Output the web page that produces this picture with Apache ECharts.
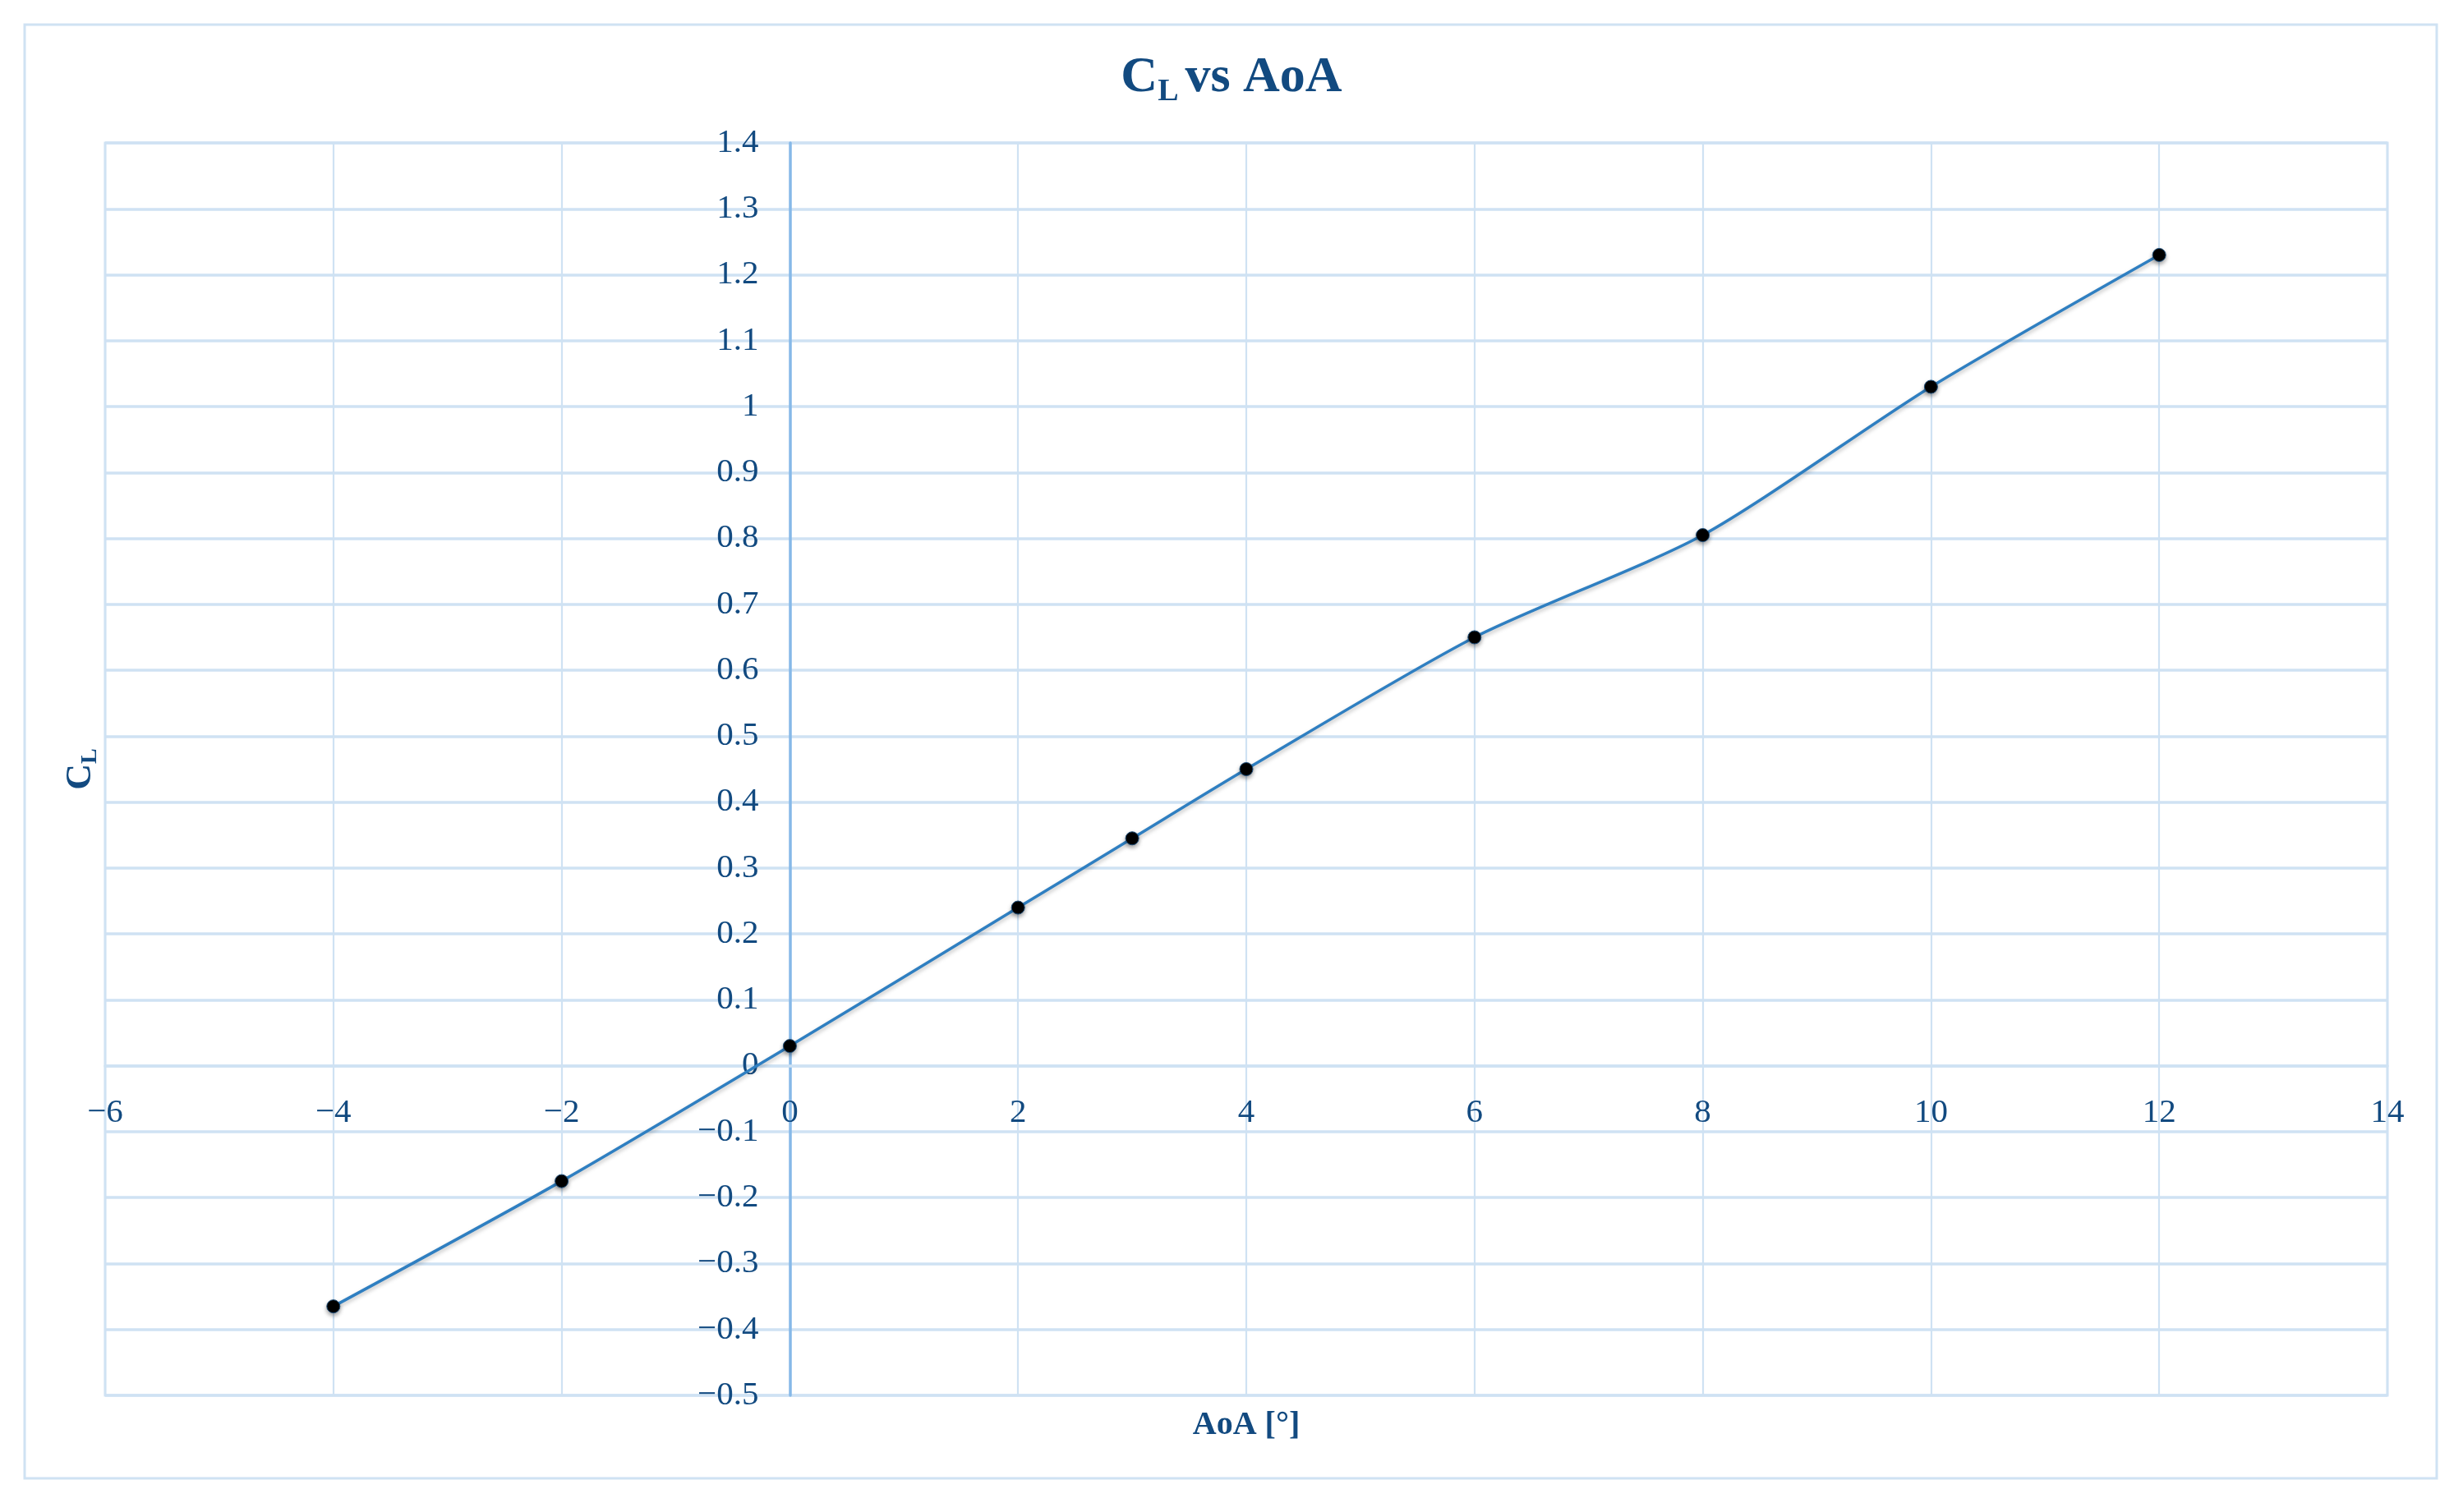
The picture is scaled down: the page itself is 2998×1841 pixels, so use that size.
<!DOCTYPE html>
<html>
<head>
<meta charset="utf-8">
<title>CL vs AoA</title>
<script src="https://cdn.jsdelivr.net/npm/echarts@6/dist/echarts.min.js"></script>
<style>
  html, body { margin: 0; padding: 0; background: #ffffff; }
  #main { width: 2998px; height: 1841px; }
</style>
</head>
<body>
<div id="main"></div>
<script>
// angle of attack (deg) and lift coefficient
var aoa = [-4, -2, 0, 2, 3, 4, 6, 8, 10, 12];
var cl = [-0.365, -0.175, 0.03, 0.24, 0.345, 0.45, 0.65, 0.805, 1.03, 1.23];

// axis ranges / ticks
var xMin = -6, xMax = 14, xStep = 2;
var yMin = -0.5, yMax = 1.4, yStep = 0.1;

var textColor = '#124a80';
var gridColor = '#cfe2f3';
var serif = '"Liberation Serif", "Times New Roman", serif';

var gridBox = { left: 128, right: 92, top: 174, bottom: 142 };

var chart = echarts.init(document.getElementById('main'));

function minus(v) {
  return String(v).replace('-', '\u2212');
}

var points = [];
for (var i = 0; i < aoa.length; i++) {
  points.push([aoa[i], cl[i]]);
}

var option = {
  backgroundColor: '#ffffff',
  animation: false,
  title: {
    text: '{c|C}{l|L}{c|vs AoA}',
    left: 'center',
    top: 54,
    textStyle: {
      rich: {
        c: { fontFamily: serif, fontWeight: 'bold', fontSize: 62, color: textColor, lineHeight: 70 },
        l: { fontFamily: serif, fontWeight: 'bold', fontSize: 38, color: textColor, padding: [34, 8, 0, 0] }
      }
    }
  },
  graphic: [{
    type: 'rect',
    shape: { x: 30, y: 30, width: 2936, height: 1770 },
    style: { fill: null, stroke: gridColor, lineWidth: 3 },
    silent: true
  }],
  grid: {
    left: gridBox.left,
    right: gridBox.right,
    top: gridBox.top,
    bottom: gridBox.bottom,
    containLabel: false,
    outerBoundsMode: 'none',
    show: true,
    borderColor: gridColor,
    borderWidth: 3
  },
  xAxis: {
    type: 'value',
    min: xMin,
    max: xMax,
    interval: xStep,
    name: 'AoA [°]',
    nameLocation: 'middle',
    nameGap: 418,
    nameTextStyle: { fontFamily: serif, fontWeight: 'bold', fontSize: 40, color: textColor },
    axisLine: { onZero: false, lineStyle: { color: gridColor, width: 3.5 } },
    axisTick: { show: false },
    axisLabel: {
      margin: 37,
      fontFamily: serif,
      fontSize: 41,
      color: textColor,
      formatter: minus
    },
    splitLine: { show: true, lineStyle: { color: gridColor, width: 2.2 } }
  },
  yAxis: {
    type: 'value',
    min: yMin,
    max: yMax,
    interval: yStep,
    name: '{c|C}{l|L}',
    nameLocation: 'middle',
    nameGap: 838,
    nameRotate: 90,
    nameTextStyle: {
      rich: {
        c: { fontFamily: serif, fontWeight: 'bold', fontSize: 44, color: textColor, lineHeight: 50 },
        l: { fontFamily: serif, fontWeight: 'bold', fontSize: 28, color: textColor, padding: [22, 0, 0, 0] }
      }
    },
    axisLine: { onZero: false, lineStyle: { color: '#86b9e8', width: 3.5 } },
    axisTick: { show: false },
    axisLabel: {
      margin: 38,
      fontFamily: serif,
      fontSize: 41,
      color: textColor,
      formatter: function (v) { return minus(Math.round(v * 10) / 10); }
    },
    splitLine: { show: true, lineStyle: { color: gridColor, width: 3.5 } }
  },
  series: [{
    type: 'line',
    data: points,
    smooth: 0.25,
    symbol: 'circle',
    symbolSize: 16,
    lineStyle: {
      color: '#2f7fc1',
      width: 3.5,
      shadowColor: 'rgba(0,0,0,0.25)',
      shadowBlur: 5,
      shadowOffsetY: 3
    },
    itemStyle: {
      color: '#000000',
      borderColor: '#1f4e79',
      borderWidth: 1,
      shadowColor: 'rgba(0,0,0,0.35)',
      shadowBlur: 5,
      shadowOffsetY: 3
    },
    z: 5
  }]
};

chart.setOption(option);

// move both axes (line, labels, name) so they cross at the origin
var origin = chart.convertToPixel({ gridIndex: 0 }, [0, 0]);
var plotBottom = chart.getHeight() - gridBox.bottom;
chart.setOption({
  xAxis: { offset: -(plotBottom - origin[1]) },
  yAxis: { offset: -(origin[0] - gridBox.left) }
});
</script>
</body>
</html>
